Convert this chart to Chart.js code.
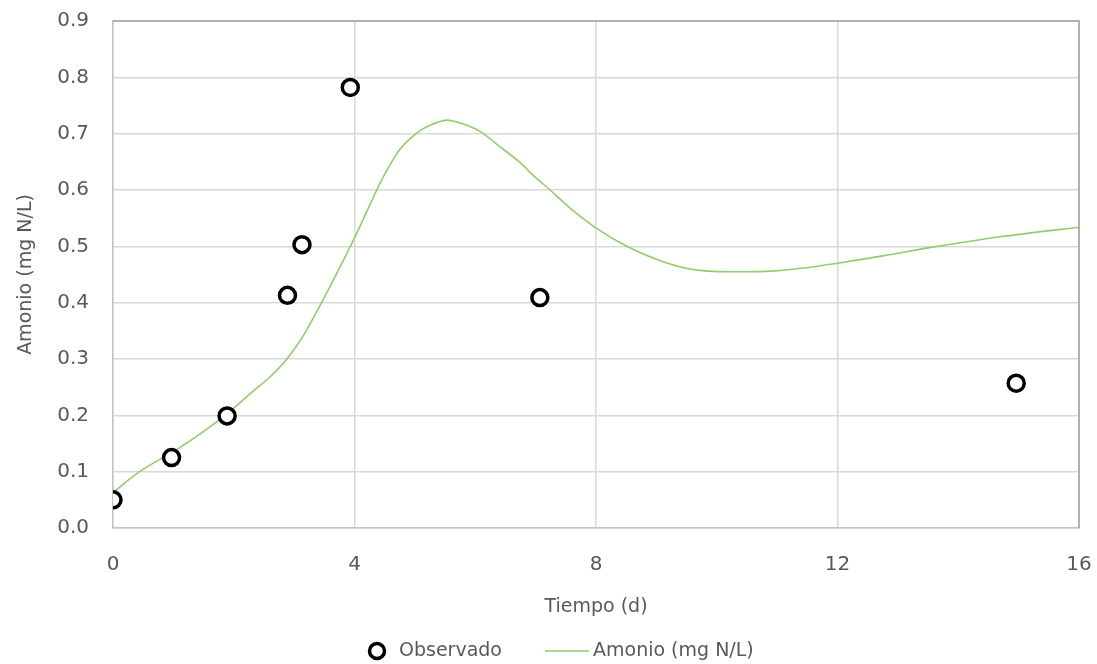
<!DOCTYPE html>
<html>
<head>
<meta charset="utf-8">
<script src="https://cdn.jsdelivr.net/npm/chart.js@4/dist/chart.umd.min.js"></script>
<style>
  html, body { margin: 0; padding: 0; background: #ffffff; }
  #c { display: block; }
</style>
</head>
<body>
<canvas id="c" width="1097" height="664"></canvas>
<script>
// Observed data
const obsX = [0, 0.97, 1.89, 2.89, 3.13, 3.93, 7.07, 14.96];
const obsY = [0.050, 0.125, 0.199, 0.413, 0.503, 0.782, 0.409, 0.257];

// Model curve (Amonio)
const modelX = [0, 0.44, 1.11, 1.61, 2.0, 2.32, 2.6, 2.88, 3.15, 3.37, 3.6, 3.82, 4.04, 4.26, 4.48, 4.75, 5.03, 5.25, 5.53, 5.8, 6.08, 6.36, 6.74, 6.96, 7.24, 7.57, 8.01, 8.51, 9.0, 9.45, 9.85, 10.4, 10.9, 11.4, 12, 12.8, 13.6, 14.7, 16];
const modelY = [0.063, 0.100, 0.143, 0.180, 0.213, 0.243, 0.268, 0.300, 0.341, 0.383, 0.430, 0.476, 0.524, 0.575, 0.624, 0.672, 0.701, 0.715, 0.724, 0.717, 0.704, 0.681, 0.649, 0.626, 0.600, 0.568, 0.532, 0.500, 0.477, 0.462, 0.456, 0.455, 0.456, 0.461, 0.470, 0.484, 0.499, 0.517, 0.534];

const xTicks = [0, 4, 8, 12, 16];
const yTicks = [0, 0.1, 0.2, 0.3, 0.4, 0.5, 0.6, 0.7, 0.8, 0.9];

const seriesNames = ['Observado', 'Amonio (mg N/L)'];
const xTitle = 'Tiempo (d)';
const yTitle = 'Amonio (mg N/L)';

const FONT = "'DejaVu Sans', sans-serif";
const TXT = '#595959';
const GREEN = '#8fce6e';

const toPts = (xs, ys) => xs.map((x, i) => ({ x: x, y: ys[i] }));

const zeroPad = (scale) => {
  scale.paddingTop = 0; scale.paddingBottom = 0;
  scale.paddingLeft = 0; scale.paddingRight = 0;
};

const frameAndLegend = {
  id: 'frameAndLegend',
  afterDraw(chart) {
    const { ctx, chartArea: a } = chart;
    ctx.save();
    // top and right plot border
    ctx.strokeStyle = '#a0a0a0';
    ctx.lineWidth = 1.5;
    ctx.beginPath();
    ctx.moveTo(a.left, a.top);
    ctx.lineTo(a.right, a.top);
    ctx.lineTo(a.right, a.bottom);
    ctx.stroke();

    // legend
    const ly = 651;
    const d0 = chart.data.datasets[0];
    const d1 = chart.data.datasets[1];
    ctx.beginPath();
    ctx.arc(377, ly, 7.5, 0, Math.PI * 2);
    ctx.fillStyle = '#ffffff';
    ctx.fill();
    ctx.lineWidth = 3.5;
    ctx.strokeStyle = d0.borderColor;
    ctx.stroke();
    ctx.font = "19px " + FONT;
    ctx.fillStyle = TXT;
    ctx.textBaseline = 'middle';
    ctx.textAlign = 'left';
    ctx.fillText(d0.label, 399, ly);

    ctx.beginPath();
    ctx.moveTo(545, ly);
    ctx.lineTo(589, ly);
    ctx.lineWidth = 1.6;
    ctx.strokeStyle = d1.borderColor;
    ctx.stroke();
    ctx.fillText(d1.label, 593, ly);
    ctx.restore();
  }
};

new Chart(document.getElementById('c'), {
  type: 'scatter',
  data: {
    datasets: [
      {
        label: seriesNames[0],
        data: toPts(obsX, obsY),
        showLine: false,
        pointRadius: 8,
        pointHoverRadius: 8,
        pointBorderWidth: 3.5,
        borderColor: '#000000',
        pointBorderColor: '#000000',
        pointBackgroundColor: '#ffffff',
        backgroundColor: '#ffffff',
        order: 0
      },
      {
        label: seriesNames[1],
        data: toPts(modelX, modelY),
        showLine: true,
        pointRadius: 0,
        pointHoverRadius: 0,
        borderColor: GREEN,
        borderWidth: 1.6,
        tension: 0.3,
        fill: false,
        order: 1
      }
    ]
  },
  options: {
    responsive: false,
    animation: false,
    devicePixelRatio: 1,
    layout: { padding: { left: 0, top: 21, right: 18, bottom: 44 } },
    plugins: {
      legend: { display: false },
      tooltip: { enabled: false }
    },
    scales: {
      x: {
        type: 'linear',
        min: 0,
        max: 16,
        afterBuildTicks(scale) { scale.ticks = xTicks.map(v => ({ value: v })); },
        afterFit(scale) { scale.height = 92; zeroPad(scale); },
        ticks: {
          font: { family: FONT, size: 20 },
          color: TXT,
          padding: 25,
          maxRotation: 0,
          callback: v => String(v)
        },
        grid: { color: '#d9d9d9', lineWidth: 1.5, drawTicks: false },
        border: { color: '#c4c4c4', width: 1.5 },
        title: {
          display: true,
          text: xTitle,
          color: TXT,
          font: { family: FONT, size: 19 },
          padding: { top: 0, bottom: 2 }
        }
      },
      y: {
        type: 'linear',
        min: 0,
        max: 0.9,
        afterBuildTicks(scale) { scale.ticks = yTicks.map(v => ({ value: v })); },
        afterFit(scale) { scale.width = 113; zeroPad(scale); },
        ticks: {
          font: { family: FONT, size: 20 },
          color: TXT,
          padding: 24,
          callback: v => Number(v).toFixed(1)
        },
        grid: { color: '#d9d9d9', lineWidth: 1.5, drawTicks: false },
        border: { color: '#c4c4c4', width: 1.5 },
        title: {
          display: true,
          text: yTitle,
          color: TXT,
          font: { family: FONT, size: 19 },
          padding: { top: 15, bottom: 0 }
        }
      }
    }
  },
  plugins: [frameAndLegend]
});
</script>
</body>
</html>
